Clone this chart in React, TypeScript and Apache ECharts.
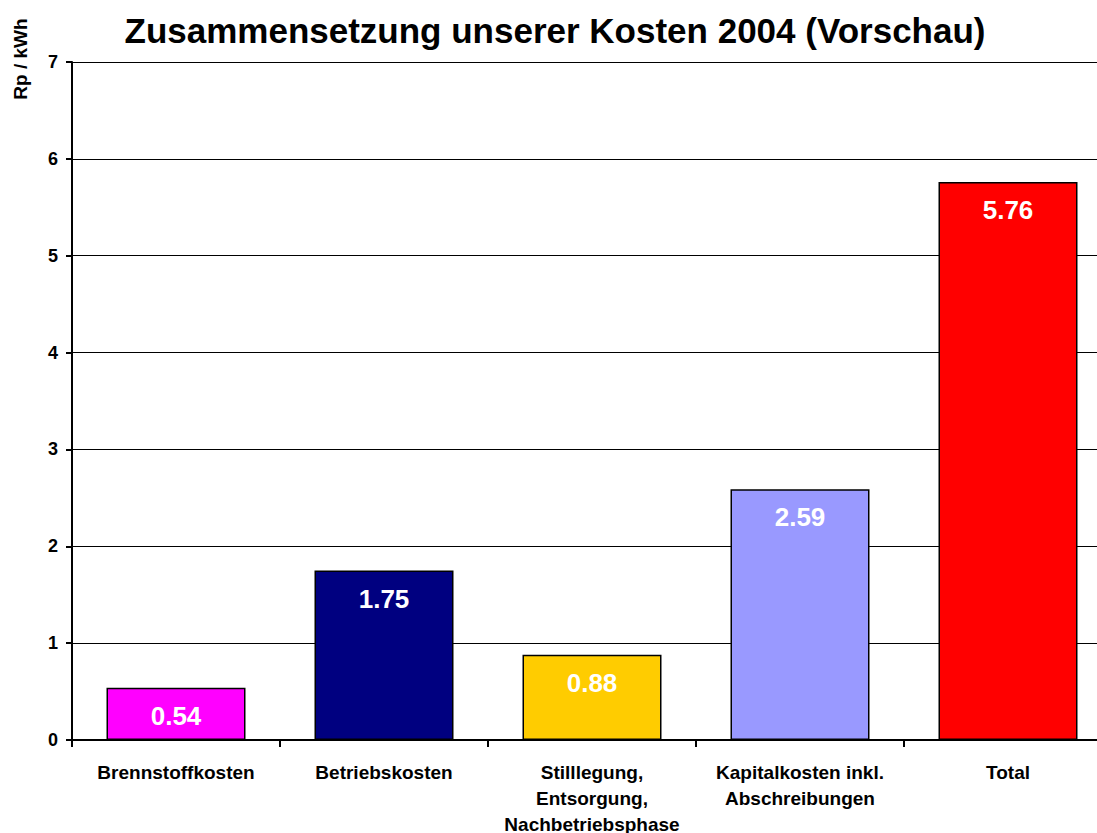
import React, { useEffect, useRef } from "react";
import * as echarts from "echarts";

const categories = [
  "Brennstoffkosten",
  "Betriebskosten",
  "Stilllegung,\nEntsorgung,\nNachbetriebsphase",
  "Kapitalkosten inkl.\nAbschreibungen",
  "Total",
];
const values = [0.54, 1.75, 0.88, 2.59, 5.76];
const barColors = ["#FF00FF", "#000080", "#FFCC00", "#9999FF", "#FF0000"];
const yTicks = [0, 1, 2, 3, 4, 5, 6, 7];
const titleText = "Zusammensetzung unserer Kosten 2004 (Vorschau)";
const yAxisName = "Rp / kWh";

const FONT = "'Liberation Sans', Arial, sans-serif";

export default function App() {
  const ref = useRef<HTMLDivElement>(null);
  useEffect(() => {
    if (!ref.current) return;
    document.documentElement.style.overflow = "hidden";
    document.body.style.overflow = "hidden";
    const chart = echarts.init(ref.current, undefined, { renderer: "svg" });
    chart.setOption({
      animation: false,
      backgroundColor: "#FFFFFF",
      grid: {
        left: 72,
        top: 62,
        width: 1040,
        height: 678,
        containLabel: false,
        outerBoundsMode: "none",
      },
      graphic: [
        {
          type: "text",
          x: 555,
          y: 30,
          style: {
            text: titleText,
            font: `bold 35px ${FONT}`,
            fill: "#000000",
            align: "center",
            verticalAlign: "middle",
          },
        },
        {
          type: "text",
          x: 20,
          y: 59,
          rotation: Math.PI / 2,
          style: {
            text: yAxisName,
            font: `bold 19px ${FONT}`,
            fill: "#000000",
            align: "center",
            verticalAlign: "middle",
          },
        },
      ],
      xAxis: {
        type: "category",
        data: categories,
        axisLine: { show: true, lineStyle: { color: "#000000", width: 2 } },
        axisTick: { show: true, length: 7, lineStyle: { color: "#000000", width: 2 } },
        axisLabel: {
          interval: 0,
          margin: 19,
          color: "#000000",
          fontFamily: FONT,
          fontWeight: "bold",
          fontSize: 19,
          lineHeight: 26,
        },
      },
      yAxis: {
        type: "value",
        min: yTicks[0],
        max: yTicks[yTicks.length - 1],
        interval: 1,
        axisLine: { show: true, lineStyle: { color: "#000000", width: 2 } },
        axisTick: { show: true, length: 6, lineStyle: { color: "#000000", width: 2 } },
        axisLabel: {
          margin: 14,
          color: "#000000",
          fontFamily: FONT,
          fontWeight: "bold",
          fontSize: 18,
        },
        splitLine: { show: true, lineStyle: { color: "#000000", width: 1 } },
      },
      series: [
        {
          type: "bar",
          barWidth: 139,
          data: values.map((v, i) => ({
            value: v,
            itemStyle: { color: barColors[i], borderColor: "#000000", borderWidth: 1.5 },
          })),
          label: {
            show: true,
            position: "insideTop",
            distance: 15,
            color: "#FFFFFF",
            fontFamily: FONT,
            fontWeight: "bold",
            fontSize: 26,
            formatter: (p: any) => p.value.toFixed(2),
          },
        },
      ],
    });
    return () => chart.dispose();
  }, []);
  return (
    <div
      ref={ref}
      style={{ position: "fixed", left: 0, top: 0, width: 1097, height: 833, overflow: "hidden" }}
    />
  );
}
